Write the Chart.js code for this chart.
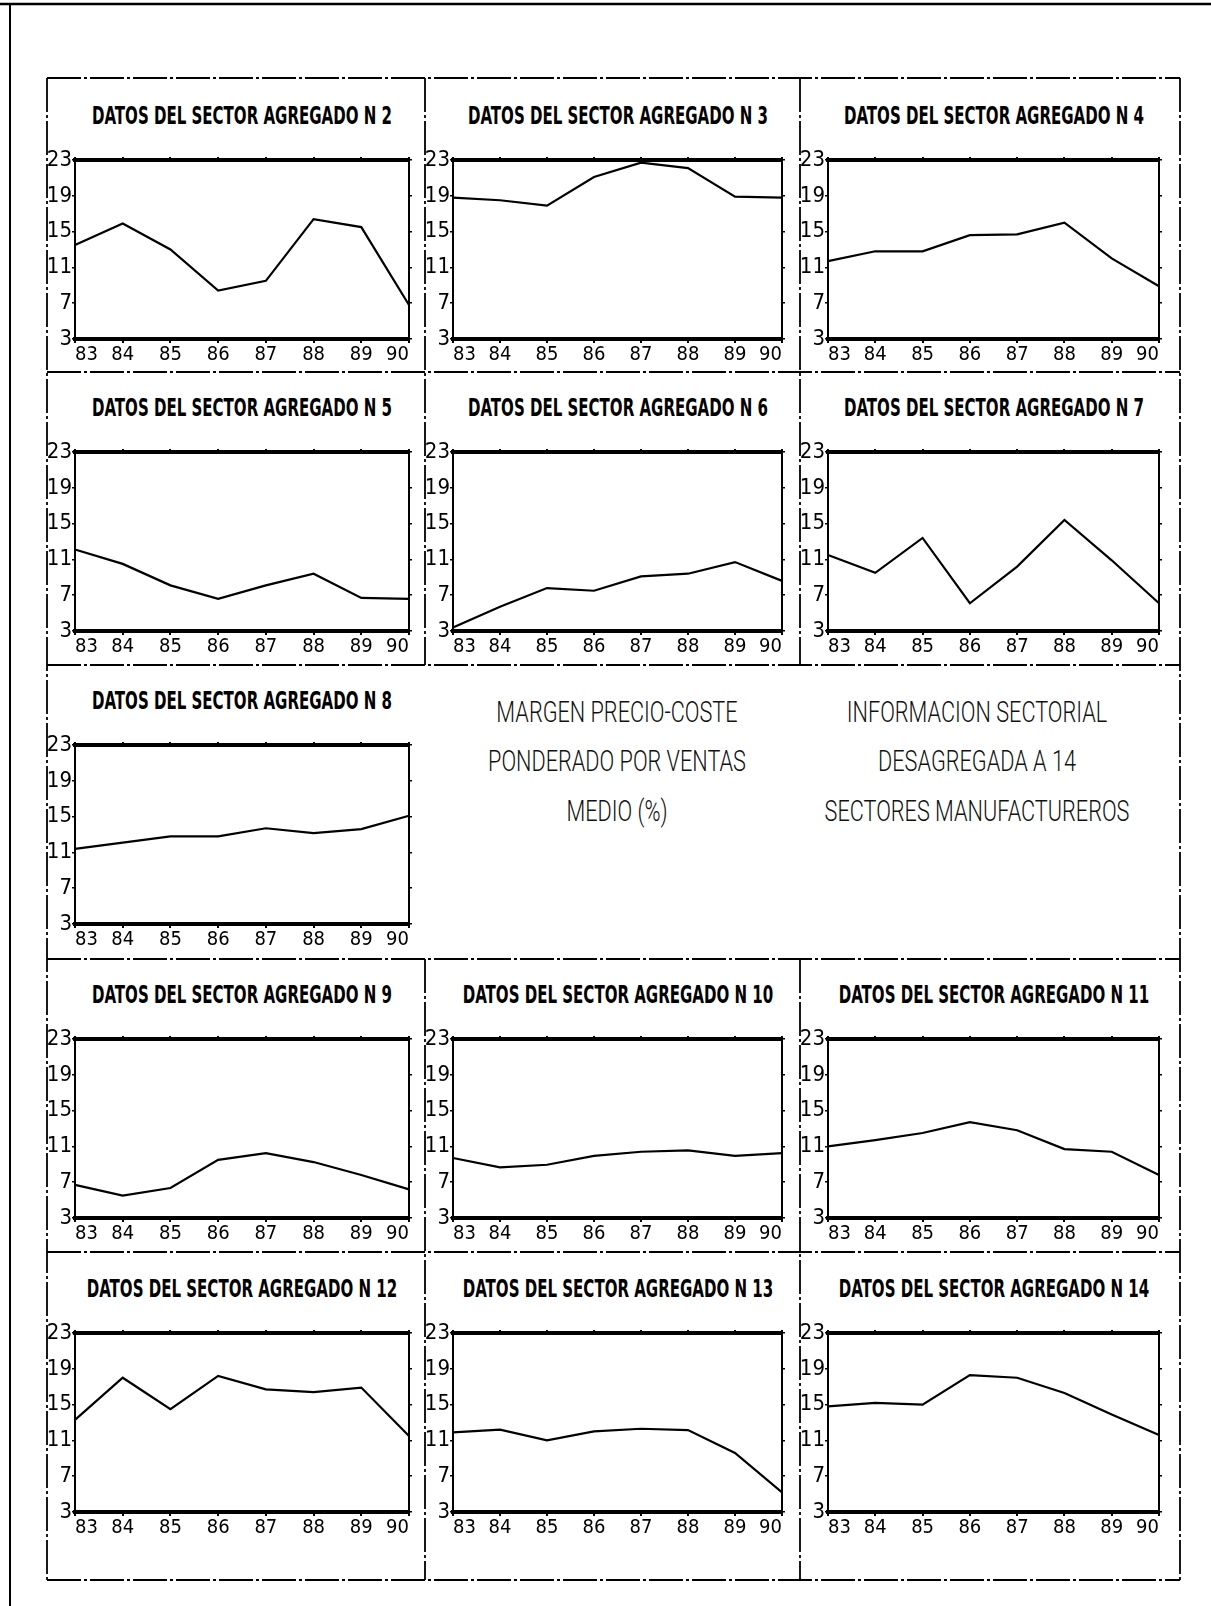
<!DOCTYPE html>
<html><head><meta charset="utf-8">
<script src="https://cdn.jsdelivr.net/npm/chart.js@4/dist/chart.umd.min.js"></script>
<style>
html,body{margin:0;padding:0;background:#fff;}
#page{position:relative;width:1211px;height:1606px;overflow:hidden;background:#fff;}
.title{position:absolute;height:30px;line-height:30px;white-space:nowrap;font-family:'DejaVu Sans Condensed','Liberation Sans Narrow','DejaVu Sans',sans-serif;font-weight:bold;font-size:24px;color:#000;}
.note{position:absolute;height:44px;line-height:44px;white-space:nowrap;font-family:Roboto,'Open Sans',sans-serif;font-weight:300;font-size:30px;color:#111;}
canvas{position:absolute;}
svg{position:absolute;left:0;top:0;}
</style></head>
<body><div id="page"><svg id="frame" width="1211" height="1606"></svg></div>
<script>
// ---- data ----
const years = ['83','84','85','86','87','88','89','90'];
const yTicks = [3, 7, 11, 15, 19, 23];
const sector2  = [13.5, 15.9, 13.0, 8.4, 9.5, 16.4, 15.5, 6.8];
const sector3  = [18.8, 18.5, 17.9, 21.1, 22.7, 22.1, 18.9, 18.8];
const sector4  = [11.7, 12.8, 12.8, 14.6, 14.7, 16.0, 12.0, 8.9];
const sector5  = [12.1, 10.5, 8.1, 6.6, 8.1, 9.4, 6.7, 6.6];
const sector6  = [3.4, 5.7, 7.8, 7.5, 9.1, 9.4, 10.7, 8.6];
const sector7  = [11.5, 9.5, 13.4, 6.1, 10.2, 15.4, 10.9, 6.1];
const sector8  = [11.4, 12.1, 12.8, 12.8, 13.7, 13.15, 13.6, 15.1];
const sector9  = [6.7, 5.5, 6.35, 9.5, 10.25, 9.25, 7.8, 6.2];
const sector10 = [9.7, 8.65, 8.95, 9.95, 10.4, 10.55, 9.95, 10.25];
const sector11 = [11.0, 11.7, 12.5, 13.7, 12.8, 10.7, 10.4, 7.8];
const sector12 = [13.3, 18.0, 14.5, 18.2, 16.7, 16.4, 16.9, 11.5];
const sector13 = [11.9, 12.2, 11.0, 12.0, 12.3, 12.15, 9.6, 5.2];
const sector14 = [14.8, 15.2, 15.0, 18.3, 18.0, 16.3, 13.9, 11.6];
const sectorNumbers = [2, 3, 4, 5, 6, 7, 8, 9, 10, 11, 12, 13, 14];
const sectorSeries = [sector2, sector3, sector4, sector5, sector6, sector7, sector8, sector9, sector10, sector11, sector12, sector13, sector14];
const titlePrefix = 'DATOS DEL SECTOR AGREGADO N ';
const noteLeft = ['MARGEN PRECIO-COSTE', 'PONDERADO POR VENTAS', 'MEDIO (%)'];
const noteRight = ['INFORMACION SECTORIAL', 'DESAGREGADA A 14', 'SECTORES MANUFACTUREROS'];

// ---- layout ----
const page = document.getElementById('page');
const svg = document.getElementById('frame');
const colPlot = [[75, 409], [453, 782], [828, 1159]];
const rowPlot = [[160, 339], [452, 631], [745, 924], [1039, 1218], [1333, 1512]];
const cells = [[0,0],[0,1],[0,2],[1,0],[1,1],[1,2],[2,0],[3,0],[3,1],[3,2],[4,0],[4,1],[4,2]];

function line(x1, y1, x2, y2, w, dash) {
  const l = document.createElementNS('http://www.w3.org/2000/svg', 'line');
  l.setAttribute('x1', x1); l.setAttribute('y1', y1);
  l.setAttribute('x2', x2); l.setAttribute('y2', y2);
  l.setAttribute('stroke', '#000'); l.setAttribute('stroke-width', w);
  if (dash) l.setAttribute('stroke-dasharray', dash);
  svg.appendChild(l);
}
// page frame
line(0, 4, 1211, 4, 2.5);
line(10, 3, 10, 1606, 2);
// cell grid
const gx = [47, 425, 800, 1180];
const gy = [78, 372, 665, 959, 1252, 1580];
const D = '34 3 3 3';
gy.forEach(y => line(gx[0], y, gx[3], y, 1.8, D));
line(gx[0], gy[0], gx[0], gy[5], 1.8, D);
line(gx[3], gy[0], gx[3], gy[5], 1.8, D);
[gx[1], gx[2]].forEach(x => {
  line(x, gy[0], x, gy[2], 1.8, D);
  line(x, gy[3], x, gy[5], 1.8, D);
});

const FONT = "'DejaVu Sans Condensed','Liberation Sans Narrow','DejaVu Sans',sans-serif";
Chart.defaults.font.family = FONT;
Chart.defaults.color = '#000';

function makePanel(series, pl, pr, pt, pb) {
  const padL = 30, padT = 15, padR = 8, padB = 28;
  const w = pr - pl + padL + padR, h = pb - pt + padT + padB;
  const cv = document.createElement('canvas');
  cv.width = w; cv.height = h;
  cv.style.left = (pl - padL) + 'px'; cv.style.top = (pt - padT) + 'px';
  cv.style.width = w + 'px'; cv.style.height = h + 'px';
  page.appendChild(cv);
  const setTicks = s => { s.ticks = yTicks.map(v => ({ value: v })); };
  new Chart(cv, {
    type: 'line',
    data: { labels: years, datasets: [{ data: series, borderColor: '#000', borderWidth: 2.2, pointRadius: 0, tension: 0, fill: false }] },
    options: {
      responsive: false, animation: false,
      layout: { padding: { left: 0, top: padT, right: padR, bottom: 0 } },
      plugins: { legend: { display: false }, tooltip: { enabled: false } },
      scales: {
        x: {
          type: 'category', position: 'bottom', offset: false,
          border: { display: true, color: '#000', width: 4 },
          grid: { display: true, drawOnChartArea: false, drawTicks: true, tickLength: 4, color: '#000', lineWidth: 2 },
          ticks: { color: '#000', font: { size: 20 }, padding: 0, align: 'inner', maxRotation: 0, autoSkip: false },
          afterFit: s => { s.height = padB; }
        },
        xTop: {
          type: 'category', position: 'top', offset: false,
          border: { display: true, color: '#000', width: 4 },
          grid: { display: true, drawOnChartArea: false, drawTicks: true, tickLength: 3, color: '#000', lineWidth: 2 },
          ticks: { display: false },
          afterFit: s => { s.height = 0; }
        },
        y: {
          type: 'linear', position: 'left', min: 3, max: 23,
          afterBuildTicks: setTicks,
          border: { display: true, color: '#000', width: 2 },
          grid: { display: true, drawOnChartArea: false, drawTicks: true, tickLength: 3, color: '#000', lineWidth: 1.5 },
          ticks: { color: '#000', font: { size: 22 }, padding: 0, autoSkip: false },
          afterFit: s => { s.width = padL; }
        },
        yRight: {
          type: 'linear', position: 'right', min: 3, max: 23,
          afterBuildTicks: setTicks,
          border: { display: true, color: '#000', width: 2 },
          grid: { display: true, drawOnChartArea: false, drawTicks: true, tickLength: 3, color: '#000', lineWidth: 1.5 },
          ticks: { display: false },
          afterFit: s => { s.width = 0; }
        }
      }
    }
  });
}

// titles
const titleEls = [];
cells.forEach(([r, c], i) => {
  const [pl, pr] = colPlot[c], [pt, pb] = rowPlot[r];
  makePanel(sectorSeries[i], pl, pr, pt, pb);
  const t = document.createElement('div');
  t.className = 'title';
  t.textContent = titlePrefix + sectorNumbers[i];
  t.style.left = ((pl + pr) / 2) + 'px';
  t.style.top = (pt - 44 - 15) + 'px';
  page.appendChild(t);
  titleEls.push(t);
});
const tk = 300 / titleEls[0].offsetWidth;
titleEls.forEach(t => { t.style.transform = `translateX(-50%) scaleX(${tk})`; });

// notes
const noteEls = [];
const noteY = [712, 761, 811];
[[noteLeft, 617], [noteRight, 977]].forEach(([lines, cx]) => {
  lines.forEach((txt, j) => {
    const n = document.createElement('div');
    n.className = 'note';
    n.textContent = txt;
    n.style.left = cx + 'px';
    n.style.top = (noteY[j] - 22) + 'px';
    page.appendChild(n);
    noteEls.push(n);
  });
});
const nk = 305 / noteEls[5].offsetWidth;
noteEls.forEach(n => { n.style.transform = `translateX(-50%) scaleX(${nk})`; });
</script>
</body></html>
